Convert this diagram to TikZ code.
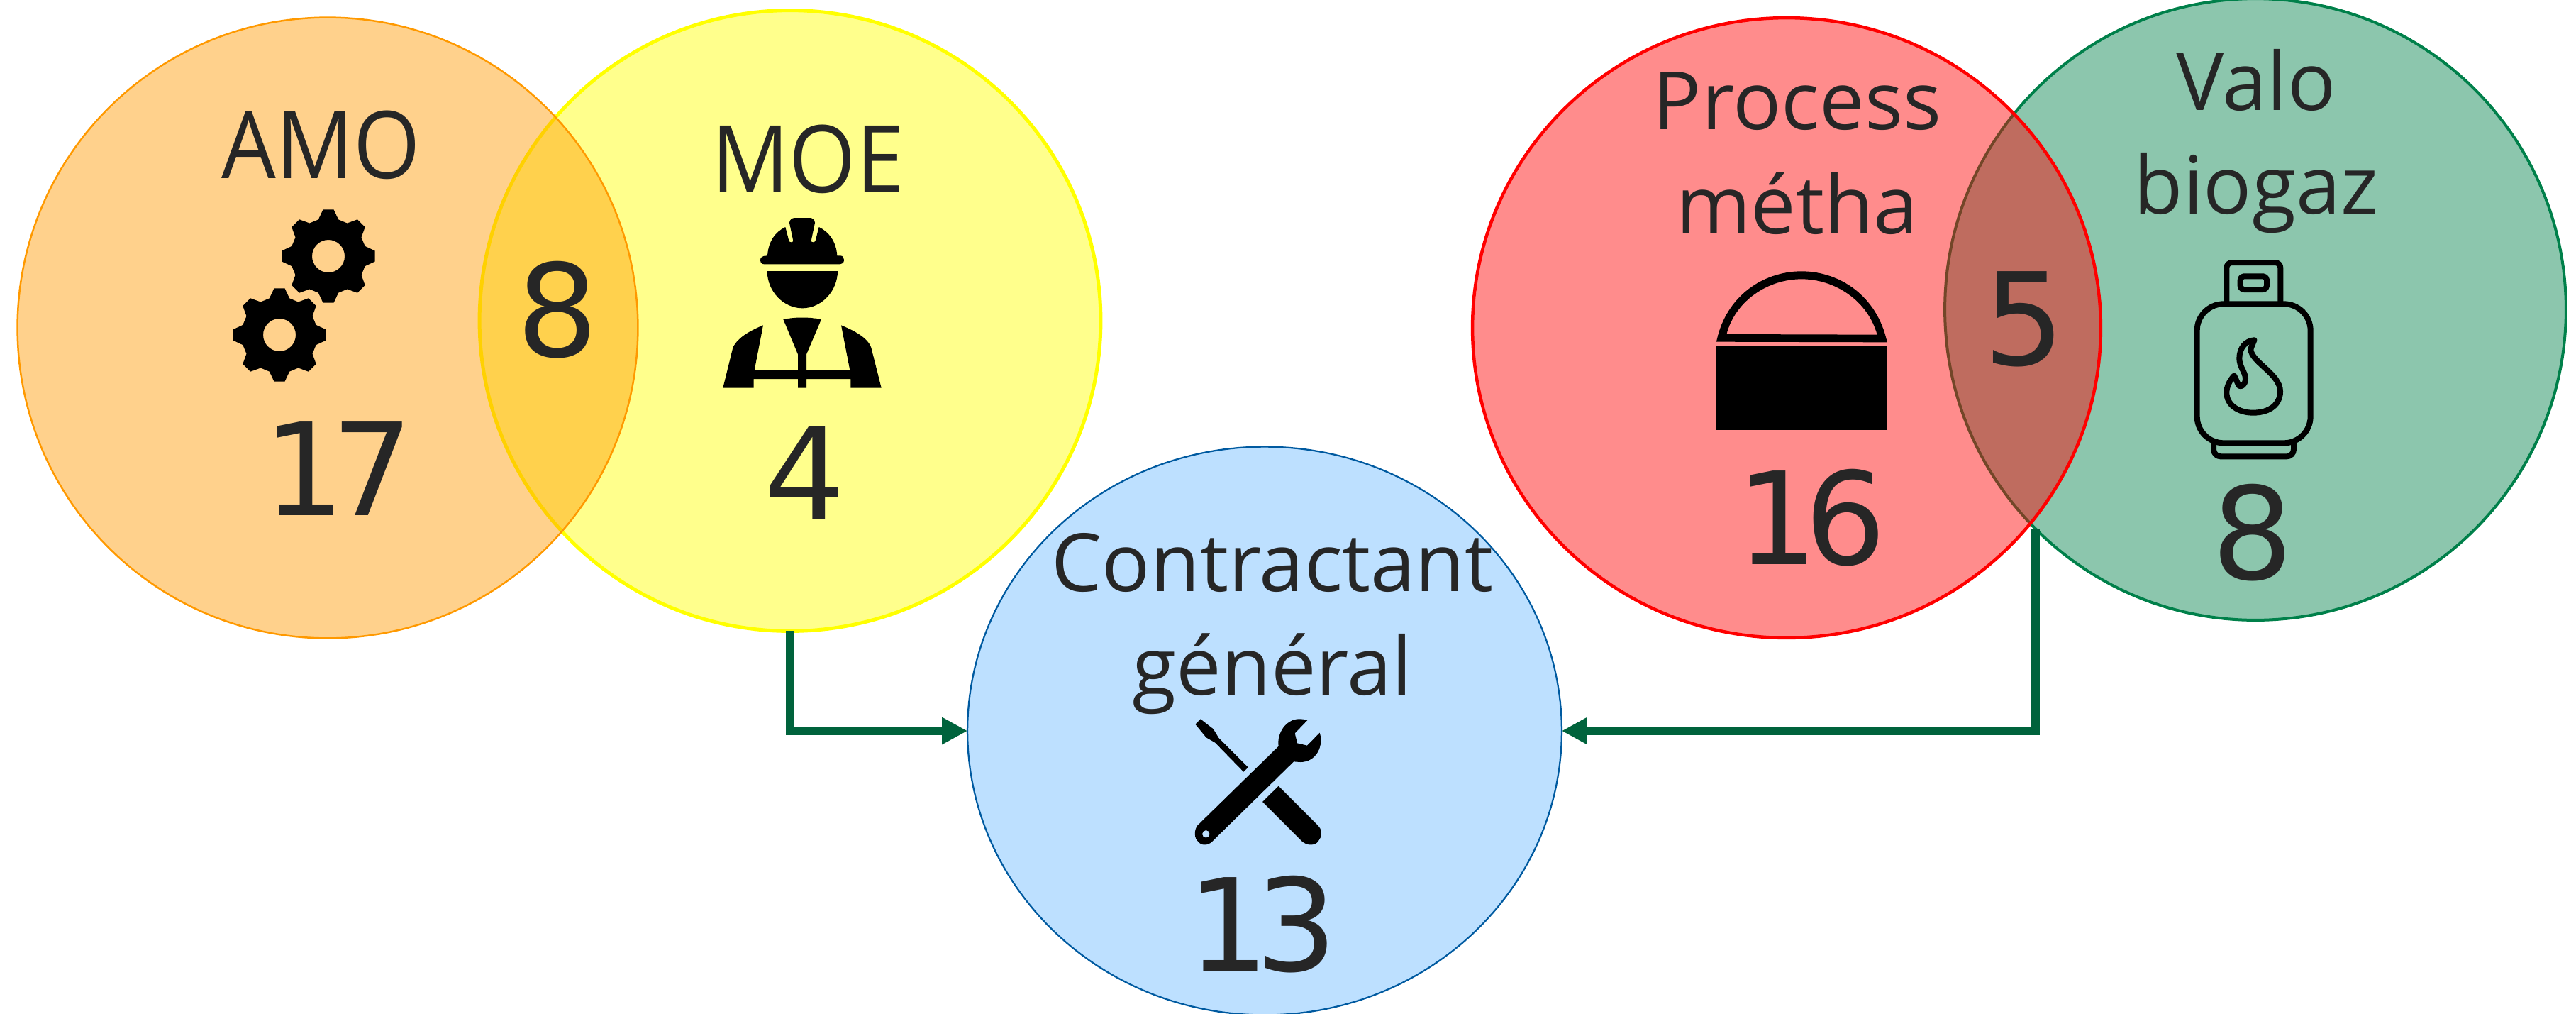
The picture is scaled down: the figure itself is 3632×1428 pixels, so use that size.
\documentclass[tikz,border=0pt]{standalone}
\usepackage{fontspec}
\setmainfont{Open Sans}
\newfontfamily\letf[FakeStretch=.92]{Open Sans}
\newfontfamily\letg{Open Sans}
\newfontfamily\digf{DejaVu Sans}
\newfontfamily\digt[LetterSpace=-11]{DejaVu Sans}
\usetikzlibrary{arrows.meta,shapes.geometric}
\definecolor{txt}{HTML}{262626}
\definecolor{conn}{HTML}{00633C}
\definecolor{ora}{HTML}{FF9900}
\definecolor{yel}{HTML}{FFFF00}
\definecolor{gre}{HTML}{00804A}
\definecolor{blu}{HTML}{005AA0}
\definecolor{blufill}{HTML}{BDE0FF}
\tikzset{
  venn/.style={ellipse,draw,inner sep=0pt,outer sep=0pt,fill opacity=.45},
  orangeset/.style={venn,minimum width=17.5cm,minimum height=17.5cm,draw=ora,fill=ora,line width=.5mm},
  yellowset/.style={venn,minimum width=17.52cm,minimum height=17.5cm,draw=yel,fill=yel,line width=1mm},
  redset/.style={venn,minimum width=17.72cm,minimum height=17.48cm,draw=red,fill=red,line width=.9mm},
  greenset/.style={venn,minimum width=17.52cm,minimum height=17.52cm,draw=gre,fill=gre,line width=.8mm},
  blueset/.style={ellipse,draw=blu,fill=blufill,inner sep=0pt,outer sep=0pt,minimum width=16.76cm,minimum height=16.02cm,line width=.45mm},
  big/.style={text=txt,inner sep=0pt,font=\digf\fontsize{103}{103}\selectfont},
  bigt/.style={text=txt,inner sep=0pt,font=\digt\fontsize{103}{103}\selectfont},
  lab/.style={text=txt,inner sep=0pt,align=center,font=\letf\fontsize{75}{75}\selectfont},
  labs/.style={text=txt,inner sep=0pt,align=center,font=\letg\fontsize{64.5}{83.5}\selectfont},
  link/.style={draw=conn,line width=.24cm,-{Triangle[length=.72cm,width=.72cm]}}
}
\begin{document}
\begin{tikzpicture}[x=.02cm,y=-.02cm]
\useasboundingbox (0,0) rectangle (3632,1428);
\clip (0,0) rectangle (3632,1428);
% sets
\node[yellowset] (moe) at (1114,452) {};
\node[orangeset] (amo) at (462,462) {};
\node[greenset] (valo) at (3180,436) {};
\node[redset] (proc) at (2519,462) {};
\node[blueset] (cg) at (1783,1030) {};
\coordinate (vstart) at (2870,745);
\draw[link] (moe.south) |- (cg.west);
\draw[link] (vstart) |- (cg.east);
% labels
\node[lab] (tamo) at (453,204) {AMO};
\node[lab] (tmoe) at (1139,224) {MOE};
\node[big] (n8a) at (786,437) {8};
\node[bigt] (n17) at (477,661) {17};
\node[big] (n4) at (1135,667) {4};
\node[labs] (tproc) at (2534,216) {Process\\métha};
\node[labs] (tvalo) at (3181,199) {Valo\\biogaz};
\node[big] (n5) at (2854,450) {5};
\node[bigt] (n16) at (2554,730) {16};
\node[big] (n8b) at (3176,751) {8};
\node[labs] (tcg) at (1794,879) {Contractant\\général};
\node[bigt] (n13) at (1780,1303) {13};
% gears
\begin{scope}[shift={(463,361)}]
  \fill[even odd rule] (-15.3:53.5) \foreach \k in {0,45,...,315}{
    -- ({\k-15.3}:53.5) -- ({\k-6.6}:66) -- ({\k+6.6}:66) -- ({\k+15.3}:53.5)} -- cycle
    (0,0) circle[radius=23];
\end{scope}
\begin{scope}[shift={(394,472)}]
  \fill[even odd rule] (-15.3:53.5) \foreach \k in {0,45,...,315}{
    -- ({\k-15.3}:53.5) -- ({\k-6.6}:66) -- ({\k+6.6}:66) -- ({\k+15.3}:53.5)} -- cycle
    (0,0) circle[radius=23];
\end{scope}
% worker
\begin{scope}[shift={(990,290)},scale=1/3]
  \fill (262,247) .. controls (252,247) and (246,240) .. (246,229) .. controls (246,218) and (255,211) .. (276,211)
    .. controls (280,150) and (310,110) .. (352,90) -- (367,148) .. controls (369,156) and (385,156) .. (385,148)
    -- (369,72) .. controls (369,60) and (380,51) .. (392,51) -- (455,51) .. controls (467,51) and (477,60) .. (477,72)
    -- (461,148) .. controls (461,156) and (477,156) .. (479,148) -- (494,90) .. controls (535,110) and (567,150) .. (571,211)
    -- (585,211) .. controls (595,211) and (600,220) .. (600,229) .. controls (600,240) and (593,247) .. (584,247) -- cycle;
  \fill (275,276) -- (573,276) .. controls (573,360) and (505,433) .. (424,433) .. controls (343,433) and (275,360) .. (275,276) -- cycle;
  \fill (258,505) .. controls (210,525) and (150,555) .. (130,600) -- (88,770) -- (218,770) -- (218,732) -- (405,732) -- (405,770)
    -- (441,770) -- (441,732) -- (628,732) -- (628,770) -- (758,770) -- (715,600) .. controls (700,555) and (635,525) .. (588,505)
    -- (625,695) -- (441,695) -- (441,628) -- (504,480) .. controls (450,470) and (395,470) .. (343,480) -- (405,628) -- (405,695)
    -- (221,695) -- cycle;
\end{scope}
% digester
\begin{scope}[shift={(2400,370)},scale=1/3]
  \fill (57,352) rectangle (782,707);
  \fill[even odd rule] (60,335) .. controls (100,140) and (260,37) .. (420,37) .. controls (580,37) and (740,140) .. (782,337) -- cycle
    (103,303) .. controls (140,160) and (280,70) .. (420,70) .. controls (560,70) and (700,160) .. (740,305) -- cycle;
\end{scope}
% gas bottle
\begin{scope}[shift={(3060,350)},scale=1/3]
  \begin{scope}[line width=.16cm,line join=round,line cap=round]
    \draw[rounded corners=.15cm] (238,232) -- (238,60) -- (466,60) -- (466,232);
    \draw[rounded corners=.1cm] (296,118) rectangle (408,174);
    \draw[rounded corners=.75cm] (113,235) rectangle (593,823);
    \draw[rounded corners=.2cm] (183,815) -- (183,880) -- (522,880) -- (522,815);
    \draw (355,388) .. controls (320,390) and (292,420) .. (292,465) .. controls (292,500) and (315,520) .. (318,548)
      .. controls (320,580) and (290,595) .. (285,570) -- (270,538) .. controls (250,560) and (238,585) .. (238,610)
      .. controls (238,660) and (285,695) .. (350,695) .. controls (420,695) and (465,660) .. (465,605)
      .. controls (465,530) and (340,480) .. (340,425) -- cycle;
  \end{scope}
\end{scope}
% tools
\begin{scope}[shift={(1660,1000)},scale=1/3]
  \fill (98,40) -- (76,62) -- (122,118) -- (160,140) -- (280,263) -- (299,244) -- (175,120) -- (152,82) -- cycle;
  \fill[even odd rule] (85,490) -- (428,155) .. controls (420,100) and (460,40) .. (515,40) .. controls (530,40) and (540,42) .. (550,45)
    -- (497,100) -- (507,142) -- (549,152) -- (602,98) .. controls (620,150) and (590,222) .. (520,222) -- (492,220)
    -- (155,550) .. controls (135,575) and (105,578) .. (90,560) .. controls (70,545) and (70,510) .. (85,490) -- cycle
    (121,526) circle[radius=16];
  \fill (428,323) -- (360,390) -- (525,555) .. controls (550,580) and (590,575) .. (600,550) .. controls (615,530) and (610,505) .. (595,490) -- cycle;
\end{scope}
\end{tikzpicture}
\end{document}
